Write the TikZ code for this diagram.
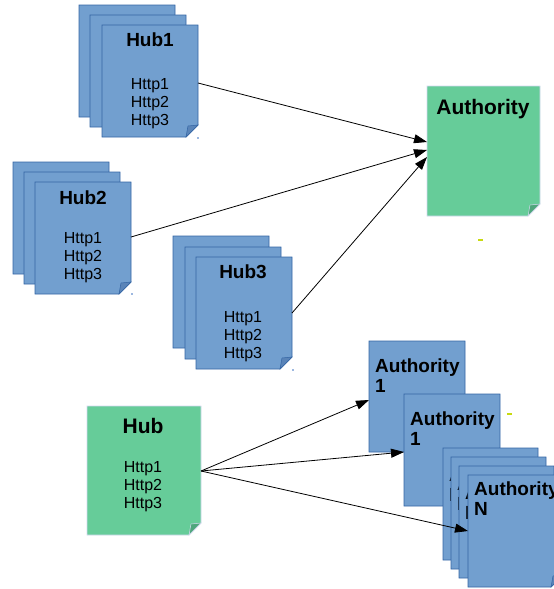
\documentclass[tikz,border=0pt]{standalone}
\usepackage{fontspec}
\setmainfont{Liberation Sans}
\usetikzlibrary{calc,arrows.meta}

\definecolor{noteblue}{HTML}{729FCF}
\definecolor{noteblueedge}{HTML}{3465A4}
\definecolor{notebluefold}{HTML}{5A84B8}
\definecolor{notegreen}{HTML}{66CC99}
\definecolor{notegreenedge}{HTML}{D4D8F0}
\definecolor{notegreenfold}{HTML}{4FA67C}
\definecolor{speck}{HTML}{C8DA10}
\definecolor{speckblue}{HTML}{9DB8E0}

\tikzset{
  pagebox/.style={inner sep=0pt, outer sep=0pt, anchor=north west},
  bluepage/.style={fill=noteblue, draw=noteblueedge, line width=0.9pt, line join=miter},
  greenpage/.style={fill=notegreen, draw=notegreenedge, line width=0.9pt, line join=miter},
  bluefold/.style={fill=notebluefold, draw=noteblueedge, line width=0.5pt},
  greenfold/.style={fill=notegreenfold, draw=notegreenedge, line width=0.5pt},
  bluetitle/.style={inner sep=0pt, font=\fontsize{19}{20}\selectfont\bfseries},
  greentitle/.style={inner sep=0pt, font=\fontsize{21}{22}\selectfont\bfseries},
  bodytext/.style={inner sep=0pt, align=center, font=\fontsize{16}{18}\selectfont},
  % anchored at the baseline of the last line
  sidetitle/.style={inner sep=0pt, anchor=base west, align=left,
                    font=\fontsize{19}{20}\selectfont\bfseries},
  conn/.style={draw=black, line width=0.8pt, -{Triangle[length=13pt,width=9pt]}},
}

% a sheet of paper with a folded bottom-right corner
% #1 name, #2 left, #3 top, #4 width, #5 height, #6 colour scheme (blue/green)
\newcommand\notepage[6]{%
  \node[pagebox, minimum width=#4pt, minimum height=#5pt] (#1) at (#2,#3) {};
  \path[#6page] (#1.north west) -- (#1.north east)
     -- ($(#1.south east)+(0,-12)$) -- ($(#1.south east)+(-12,0)$)
     -- (#1.south west) -- cycle;
  \path[#6fold] ($(#1.south east)+(0,-12)$) -- ($(#1.south east)+(-12,0)$)
     -- ($(#1.south east)+(-10,-11)$) -- cycle;
}

\begin{document}
\begin{tikzpicture}[x=1pt, y=-1pt]
\useasboundingbox (0,0) rectangle (554,589);

% ---- Hub1 stack
\notepage{hub1a}{79}{5}{96}{112}{blue}
\notepage{hub1b}{90}{15}{96}{112}{blue}
\notepage{hub1c}{102}{25}{96}{112}{blue}
\node[bluetitle] (hub1title) at (150,40) {Hub1};
\node[bodytext] (hub1body) at (150,104) {Http1\\Http2\\Http3};

% ---- Hub2 stack
\notepage{hub2a}{13}{162}{96}{112}{blue}
\notepage{hub2b}{24}{172}{96}{112}{blue}
\notepage{hub2c}{35}{182}{96}{112}{blue}
\node[bluetitle] (hub2title) at (83,198) {Hub2};
\node[bodytext] (hub2body) at (83,258) {Http1\\Http2\\Http3};

% ---- Hub3 stack
\notepage{hub3a}{173}{236}{96}{112}{blue}
\notepage{hub3b}{185}{247}{96}{112}{blue}
\notepage{hub3c}{196}{257}{96}{112}{blue}
\node[bluetitle] (hub3title) at (243,272) {Hub3};
\node[bodytext] (hub3body) at (243,337) {Http1\\Http2\\Http3};

% ---- Authority (target of the hubs)
\notepage{auth}{427}{86}{113}{130}{green}
\node[greentitle] (authtitle) at (483,109) {Authority};

% ---- Hub (source of the authorities)
\notepage{hub}{87}{406}{114}{129}{green}
\node[greentitle] (hubtitle) at (143,426) {Hub};
\node[bodytext] (hubbody) at (143,487) {Http1\\Http2\\Http3};

% ---- Authority 1 sheets
\notepage{autha}{369}{341}{96}{111}{blue}
\node[sidetitle] (authatext) at (375,392) {Authority\\1};
\notepage{authb}{404}{394}{96}{112}{blue}
\node[sidetitle] (authbtext) at (410,445) {Authority\\1};

% ---- Authority N stack
\notepage{authn1}{443}{448}{95}{112}{blue}
\node[sidetitle] (authn1text) at (449,501) {Authority\\N};
\notepage{authn2}{451}{457}{95}{112}{blue}
\node[sidetitle] (authn2text) at (457,510) {Authority\\N};
\notepage{authn3}{459}{466}{95}{112}{blue}
\node[sidetitle] (authn3text) at (465,519) {Authority\\N};
\notepage{authn}{468}{475}{95}{112}{blue}
\node[sidetitle] (authntext) at (474,515) {Authority\\N};

% ---- links
\draw[conn] ($(hub1c.north east)+(0,58)$) -- ($(auth.west)+(0,-9)$);
\draw[conn] ($(hub2c.north east)+(0,55)$) -- ($(auth.west)+(0,-1)$);
\draw[conn] ($(hub3c.north east)+(0,56)$) -- ($(auth.west)+(0,6)$);
\draw[conn] ($(hub.north east)+(0,65)$) -- ($(autha.north west)+(0,59)$);
\draw[conn] ($(hub.north east)+(0,65)$) -- ($(authb.north west)+(0,58)$);
\draw[conn] ($(hub.north east)+(0,65)$) -- ($(authn.north west)+(0,56)$);

% ---- small specks
\fill[speck] (477.5,239) rectangle (482.5,241);
\fill[speck] (506.5,413) rectangle (511.5,415);
\fill[speckblue] (197,137) rectangle (198.5,138.5);
\fill[speckblue] (292,369) rectangle (293.5,370.5);
\fill[speckblue] (131,293) rectangle (132.5,294.5);
\end{tikzpicture}
\end{document}
